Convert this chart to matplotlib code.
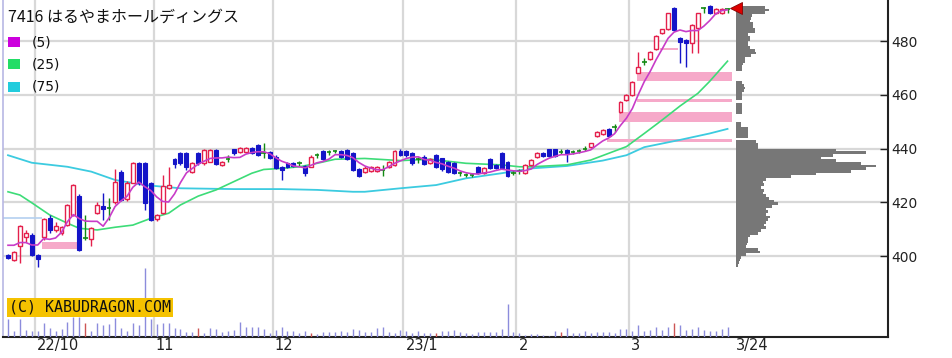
import matplotlib
matplotlib.use("Agg")
import matplotlib.pyplot as plt
from matplotlib.patches import Rectangle
import matplotlib.transforms as mtransforms
import pandas as pd

# 銘柄名
title = "7416 はるやまホールディングス"

# 営業日 (2022/9/26 - 2023/3/24)
holidays = ["2022-10-10", "2022-11-03", "2022-11-23", "2023-01-02", "2023-01-03",
            "2023-01-09", "2023-02-23", "2023-03-21"]
days = pd.bdate_range("2022-09-26", "2023-03-24")
days = days[~days.isin(pd.to_datetime(holidays))]

# 四本値 (円)
opens = [400.4, 398.5, 403.7, 406.9, 407.8, 400.4, 407.2, 414.0, 409.7, 408.7,
         411.5, 415.3, 422.3, 406.6, 406.2, 416.1, 418.6, 417.7, 420.2, 431.4,
         421.1, 427.3, 434.5, 434.5, 427.0, 413.6, 415.9, 425.2, 436.0, 438.2,
         438.4, 431.4, 438.4, 434.5, 435.0, 439.4, 433.9, 436.0, 439.7, 438.8,
         438.8, 440.1, 441.3, 438.2, 438.8, 437.0, 433.2, 434.7, 434.7, 434.7,
         433.5, 433.2, 437.7, 439.2, 438.8, 439.0, 439.2, 439.4, 438.2, 432.2,
         431.4, 431.6, 431.6, 432.0, 433.0, 433.9, 439.2, 439.2, 438.2, 436.0,
         437.0, 434.7, 437.6, 436.3, 435.1, 434.7, 430.8, 430.0, 430.0, 433.2,
         430.8, 436.0, 434.0, 438.4, 435.1, 431.0, 431.5, 431.0, 433.9, 437.0,
         438.4, 439.7, 439.7, 438.8, 439.4, 438.8, 439.0, 439.8, 440.7, 444.7,
         445.3, 447.1, 447.9, 453.5, 458.0, 459.9, 468.2, 472.3, 473.2, 476.9,
         482.9, 484.3, 492.2, 481.0, 480.4, 479.1, 484.7, 492.2, 493.0, 490.3,
         490.3, 491.8]
highs = [400.8, 402.0, 411.5, 409.7, 408.7, 400.8, 414.0, 415.3, 412.8, 411.0,
         419.5, 426.8, 423.0, 415.3, 410.8, 420.2, 423.3, 421.5, 432.2, 432.0,
         428.0, 435.0, 435.0, 435.0, 427.5, 415.8, 430.1, 433.2, 436.5, 438.6,
         438.8, 435.0, 438.8, 439.8, 439.8, 439.8, 435.5, 437.6, 440.0, 440.4,
         440.4, 440.5, 441.8, 442.2, 439.2, 437.5, 433.6, 435.0, 435.0, 435.5,
         434.0, 437.5, 438.5, 439.6, 439.6, 439.6, 439.6, 439.8, 438.6, 432.6,
         433.4, 433.6, 433.6, 433.8, 435.5, 439.6, 439.8, 439.6, 438.6, 437.0,
         437.4, 436.4, 438.0, 436.6, 435.4, 435.0, 431.6, 431.0, 431.0, 433.6,
         433.0, 436.4, 434.4, 438.8, 435.5, 432.0, 432.5, 434.3, 436.0, 438.6,
         438.8, 440.0, 440.0, 439.8, 439.8, 439.6, 439.8, 441.0, 442.2, 446.6,
         447.2, 447.5, 449.1, 457.5, 460.2, 465.2, 476.0, 473.5, 476.3, 482.3,
         484.6, 490.6, 492.5, 481.4, 480.8, 486.3, 490.6, 492.5, 493.3, 492.1,
         492.1, 492.1]
lows = [398.8, 398.0, 397.3, 405.3, 400.0, 396.0, 406.0, 408.4, 409.0, 408.0,
        411.0, 415.0, 402.0, 406.0, 403.7, 415.5, 413.4, 413.4, 419.5, 420.5,
        420.5, 427.0, 426.5, 417.1, 413.0, 413.0, 415.5, 424.8, 432.6, 434.0,
        432.0, 431.0, 434.0, 434.0, 434.8, 434.0, 433.5, 435.1, 437.5, 438.5,
        438.5, 438.0, 437.3, 436.3, 436.0, 432.3, 428.3, 432.8, 433.0, 433.4,
        429.6, 433.0, 436.5, 435.6, 437.5, 438.4, 436.6, 435.6, 431.6, 429.4,
        431.0, 431.2, 431.2, 429.8, 432.6, 433.5, 437.2, 437.0, 434.0, 434.6,
        433.8, 434.4, 432.8, 431.8, 431.0, 430.4, 429.8, 429.4, 429.4, 430.6,
        430.4, 432.2, 432.4, 432.2, 429.4, 430.0, 430.6, 430.6, 433.5, 436.6,
        436.8, 436.8, 436.8, 437.8, 435.0, 438.0, 438.2, 439.0, 440.3, 444.3,
        445.0, 444.4, 446.3, 453.3, 457.8, 459.6, 468.0, 471.0, 473.0, 476.6,
        482.6, 484.0, 483.8, 471.7, 470.4, 475.4, 475.4, 490.3, 490.1, 490.0,
        490.0, 490.3]
closes = [399.1, 401.6, 411.2, 408.4, 400.4, 398.8, 413.6, 409.7, 411.2, 410.7,
          419.0, 426.4, 402.2, 406.6, 410.3, 419.0, 417.4, 417.7, 427.7, 420.8,
          427.3, 434.5, 427.0, 419.6, 413.4, 415.3, 426.0, 426.4, 434.2, 434.5,
          433.2, 434.7, 434.5, 439.4, 439.5, 434.2, 435.1, 436.0, 438.2, 440.1,
          440.1, 438.2, 437.6, 438.2, 436.3, 432.6, 432.0, 433.2, 433.5, 434.7,
          430.8, 437.0, 437.7, 436.0, 438.8, 439.0, 437.0, 436.0, 432.0, 429.8,
          432.8, 433.0, 433.0, 432.0, 435.1, 439.2, 437.6, 437.4, 434.5, 436.0,
          434.2, 436.0, 433.2, 432.2, 431.4, 430.8, 430.8, 430.0, 430.0, 431.0,
          432.6, 432.6, 432.6, 432.6, 429.8, 431.0, 431.5, 433.9, 435.7, 438.2,
          437.2, 437.2, 437.2, 438.8, 438.2, 438.8, 439.0, 439.8, 441.9, 446.3,
          446.9, 444.7, 447.9, 457.2, 459.9, 464.9, 470.4, 472.3, 476.0, 482.0,
          484.3, 490.3, 484.1, 479.8, 479.1, 486.0, 490.3, 492.2, 490.3, 491.8,
          491.8, 491.8]

# 出来高 (相対値)
volume = [18, 6.7, 18, 7.3, 6.7, 6.7, 14, 9, 6.7, 8,
          15.7, 20.7, 20, 14, 6.7, 14, 12.3, 13.3, 19.7, 9,
          6.7, 14, 12.3, 69, 18, 13.3, 14, 14, 9, 8,
          5.7, 5.7, 9, 4.7, 9, 8, 5.7, 6.7, 7.3, 15.7,
          10, 10.7, 10.7, 8, 4.7, 7.3, 10.7, 6.3, 6.3, 4,
          6.7, 4.7, 3.3, 5.7, 5.7, 5.7, 6.7, 5.7, 8, 7.3,
          5.7, 5.7, 9, 10.7, 5.7, 4.7, 7.3, 6.7, 4, 6,
          4.3, 4.7, 4.7, 6.3, 6.7, 7.3, 5.7, 4, 3.3, 5.7,
          5.7, 5.7, 5.7, 8, 33.3, 5.7, 4.7, 2.3, 3.3, 3.3,
          2.3, 1.3, 6.7, 5.7, 9, 4, 4, 6.7, 4, 5.7,
          5.7, 5.7, 4.7, 8, 8, 6.7, 12.3, 6.7, 7.3, 10.7,
          7.3, 10.7, 14, 12.3, 7.3, 8, 10.7, 7.3, 6.7, 6.7,
          8, 10.7]
vol_red_days = [13, 32, 51, 72, 93, 112]

# 移動平均 (5日は毎日, 25日・75日は読み取り点)
ma5 = [404.0, 404.0, 405.0, 405.0, 404.1, 404.1, 406.5, 406.2, 406.7, 408.8,
       412.8, 415.4, 413.9, 413.0, 412.9, 412.9, 411.1, 414.2, 418.4, 420.5,
       422.2, 425.6, 427.5, 425.8, 424.4, 422.0, 420.3, 420.1, 423.1, 427.3,
       430.9, 432.6, 434.2, 435.3, 436.3, 436.5, 436.5, 436.8, 436.6, 436.7,
       437.9, 438.5, 438.8, 438.8, 438.1, 436.6, 435.3, 434.5, 433.5, 433.2,
       432.8, 433.8, 434.7, 435.2, 436.1, 437.7, 437.7, 437.4, 436.6, 434.8,
       433.5, 432.7, 432.1, 432.1, 433.2, 434.5, 435.4, 436.3, 436.8, 436.9,
       435.9, 435.6, 434.8, 434.3, 433.4, 432.7, 431.7, 431.0, 430.6, 430.5,
       430.9, 431.2, 431.8, 432.3, 432.0, 431.7, 431.5, 431.8, 432.4, 434.1,
       435.3, 436.4, 437.1, 437.7, 437.7, 438.0, 438.4, 438.9, 439.5, 441.2,
       442.8, 443.9, 445.5, 448.6, 451.3, 454.9, 460.1, 464.9, 468.7, 473.1,
       477.0, 481.0, 483.3, 484.1, 483.5, 483.9, 483.9, 485.5, 487.6, 490.1,
       491.3, 491.6]
ma25_day = [0, 2, 4, 7, 10, 12, 15, 18, 21, 24, 27, 29, 32, 35, 38, 41, 43, 46,
            49, 52, 55, 60, 66, 71, 77, 83, 86, 88, 94, 98, 101, 104, 107, 110,
            113, 116, 118, 121]
ma25 = [423.9, 422.7, 419.8, 415.3, 412.2, 410.3, 409.7, 410.7, 411.5, 414.0,
        415.9, 419.0, 422.3, 424.6, 427.7, 430.8, 432.2, 432.6, 433.2, 434.5,
        436.0, 436.3, 435.5, 436.0, 434.5, 433.9, 433.2, 433.2, 433.9, 435.7,
        438.2, 440.7, 445.6, 450.6, 455.8, 460.5, 465.0, 472.5]
ma75_day = [0, 4, 10, 14, 18, 23, 29, 38, 46, 52, 58, 60, 66, 72, 77, 83, 88,
            94, 100, 104, 107, 113, 118, 121]
ma75 = [437.5, 434.7, 433.2, 431.4, 428.3, 426.4, 425.2, 424.9, 424.9, 424.6,
        423.9, 423.9, 425.2, 426.4, 428.9, 430.8, 432.6, 433.5, 435.5, 437.5,
        440.5, 443.2, 445.6, 447.3]

# 窓 (開始日, 終了日, 下限, 上限)
gap_from = [106, 106, 103, 101, 110, 6]
gap_to = [122, 122, 122, 122, 113, 12]
gap_low = [465.1, 457.3, 449.9, 442.5, 476.6, 402.6]
gap_high = [468.6, 458.4, 453.6, 443.6, 477.3, 405.2]
ref_price = 414.0
ref_to = 6

# 価格帯別出来高 (396円〜492円, 1円刻み)
profile_price = list(range(396, 493))
profile_vol = [2, 3, 4, 5, 10, 24, 22, 10, 11, 12,
               12, 14, 22, 25, 30, 28, 30, 32, 34, 30,
               32, 30, 36, 42, 38, 33, 30, 27, 28, 25,
               28, 27, 30, 55, 80, 115, 130, 140, 125, 100,
               85, 97, 130, 100, 22, 22, 20, 0, 12, 12,
               12, 12, 5, 5, 0, 0, 0, 6, 6, 6,
               6, 0, 6, 6, 6, 8, 9, 8, 6, 0,
               0, 0, 0, 6, 6, 7, 9, 9, 15, 20,
               19, 14, 12, 12, 14, 14, 12, 19, 19, 17,
               17, 14, 15, 16, 29, 33, 29]

month_labels = ["22/10", "11", "12", "23/1", "2", "3"]

W, H = 953, 358
UP = "#e4204c"
DOWN = "#1414c8"
EVEN = "#138a13"
GRID = "#d8d8d8"


def fpos(x, y):
    # 画像ピクセル -> figure座標
    return x / W, 1 - y / H


fig = plt.figure(figsize=(W / 100, H / 100), dpi=100, facecolor="white")
ax_left, ax_right, ax_bottom = 3, 887.5, 337.3
rect = [ax_left / W, 1 - ax_bottom / H, (ax_right - ax_left) / W, ax_bottom / H]
ax = fig.add_axes(rect)
ax.set_facecolor("white")

n = len(days)
xs = list(range(n))
ax.set_xlim(-0.84, 147.9)
ax.set_ylim(369.75, 495.26)

# 月初のグリッド
firsts = [i for i in range(1, n) if days[i].month != days[i - 1].month]
grid_x = [i - 0.5 for i in firsts]
for gx in grid_x:
    ax.axvline(gx, color=GRID, lw=1.6, zorder=0)
for p in [400, 420, 440, 460, 480]:
    ax.axhline(p, color=GRID, lw=1.6, zorder=0)

# 窓
for f, t, lo, hi in zip(gap_from, gap_to, gap_low, gap_high):
    ax.add_patch(Rectangle((f - 0.3, lo), t - f, hi - lo, facecolor="#f6a9c9",
                           edgecolor="none", zorder=1))
ax.hlines(ref_price, -1, ref_to - 0.3, color="#b4d0f0", lw=1.2, zorder=1)

# 価格帯別出来高
prof_left = n + 0.5
px_per_day = (ax_right - ax_left) / (147.9 + 0.84)
ax.barh(profile_price, [v / px_per_day for v in profile_vol], height=1.0,
        left=prof_left, align="edge", color="#777777", edgecolor="none", zorder=2)
ax.plot([prof_left], [closes[-1] + 0.5], marker="<", markersize=8, color="#dd0000",
        markeredgecolor="#880000", markeredgewidth=0.6, zorder=6, clip_on=False)

# 移動平均
ax.plot(ma75_day, ma75, color="#3ccbe0", lw=1.3, zorder=3)
ax.plot(ma25_day, ma25, color="#3ddc78", lw=1.2, zorder=3)
ax.plot(xs, ma5, color="#c83cc8", lw=1.2, zorder=5)

# ローソク足
bw = 0.66
for i in xs:
    o, h, l, c = opens[i], highs[i], lows[i], closes[i]
    if c > o:
        ax.vlines(i, l, h, color=UP, lw=1.0, zorder=3.5)
        ax.add_patch(Rectangle((i - bw / 2, o), bw, c - o, facecolor="white",
                               edgecolor=UP, lw=1.0, zorder=4))
    elif c < o:
        ax.vlines(i, l, h, color=DOWN, lw=1.0, zorder=3.5)
        ax.add_patch(Rectangle((i - bw / 2, c), bw, o - c, facecolor=DOWN,
                               edgecolor=DOWN, lw=0.8, zorder=4))
    else:
        ax.vlines(i, l, h, color=EVEN, lw=1.0, zorder=3.5)
        ax.hlines(o, i - bw / 2 - 0.05, i + bw / 2 + 0.05, color=EVEN, lw=1.2, zorder=4)

# 出来高 (同じ領域の下部)
axv = fig.add_axes(rect, sharex=ax)
axv.patch.set_visible(False)
axv.set_ylim(0, ax_bottom)
axv.axis("off")
vol_colors = ["#cc5555" if i in vol_red_days else "#8c8cdc" for i in xs]
axv.vlines(xs, 0, volume, colors=vol_colors, lw=1.0)

# 軸
ax.spines["top"].set_visible(False)
ax.spines["left"].set_color("#b8b8e4")
ax.spines["left"].set_linewidth(1.2)
ax.spines["right"].set_color("#222222")
ax.spines["right"].set_linewidth(1.5)
ax.spines["bottom"].set_color("#222222")
ax.spines["bottom"].set_linewidth(1.5)

ax.yaxis.tick_right()
ax.set_yticks([400, 420, 440, 460, 480])
ax.tick_params(axis="y", direction="in", length=6, width=1, pad=3,
               labelsize=10, colors="#222222")
ax.set_xticks([])

off = mtransforms.offset_copy(ax.get_xaxis_transform(), fig=fig, x=2, y=-8, units="dots")
for gx, lab in zip(grid_x, month_labels):
    ax.text(gx, 0, lab, transform=off, ha="left", va="center", fontsize=10.5, color="#222222")
ax.text(n, 0, f"{days[-1].month}/{days[-1].day}", transform=off, ha="left",
        va="center", fontsize=10.5, color="#222222")

# 銘柄名と凡例
jp = ["Noto Sans CJK JP", "DejaVu Sans"]
fig.text(*fpos(8, 17), title, family=jp, fontsize=11.5, ha="left", va="center",
         color="#111111")
for y, col, lab in [(42, "#cc00dd", "(5)"), (64, "#22dd66", "(25)"), (87, "#22ccdd", "(75)")]:
    x0, y0 = fpos(8, y + 5)
    fig.patches.append(Rectangle((x0, y0), 12 / W, 10 / H, transform=fig.transFigure,
                                 facecolor=col, edgecolor="none"))
    fig.text(*fpos(32, y), lab, fontsize=10, ha="left", va="center", color="#111111")

fig.text(*fpos(9, 307.5), "(C) KABUDRAGON.COM", family="DejaVu Sans Mono", fontsize=10.8,
         ha="left", va="center", color="#111111",
         bbox=dict(facecolor="#f5c200", edgecolor="none", pad=1.6))

fig.savefig("out.png", dpi=100, facecolor="white")
